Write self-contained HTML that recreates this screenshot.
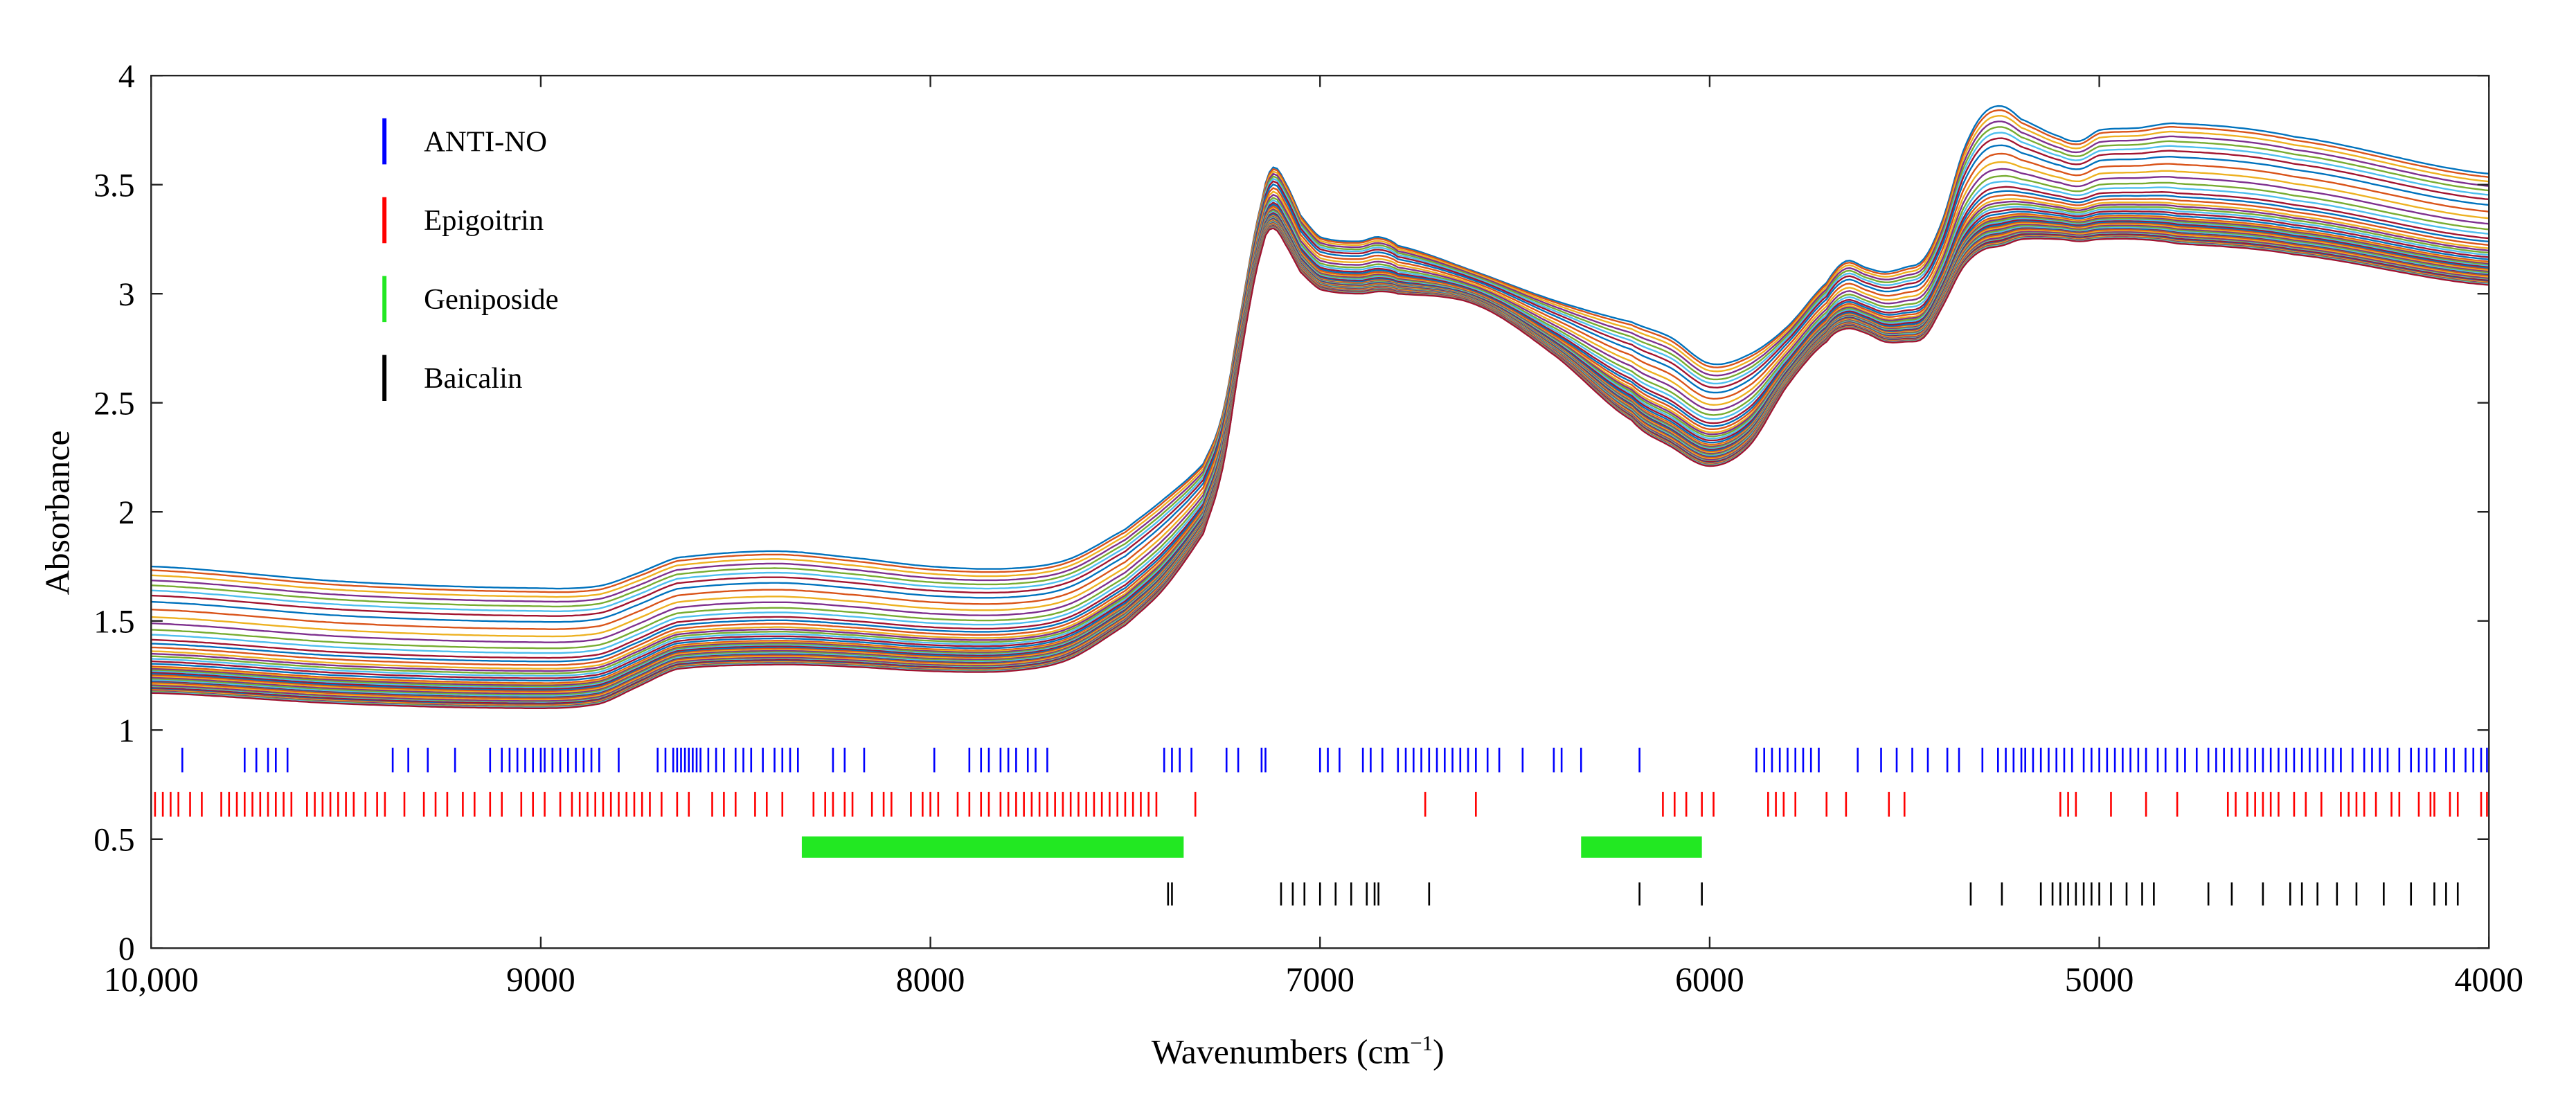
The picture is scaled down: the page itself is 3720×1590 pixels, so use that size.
<!DOCTYPE html>
<html><head><meta charset="utf-8"><style>
html,body{margin:0;padding:0;background:#fff;}
svg{display:block;}
svg text{font-family:'Liberation Serif','Times New Roman',Times,'DejaVu Serif',serif !important;fill:#000;}
</style></head><body>
<svg id="chart" width="3720" height="1590" viewBox="0 0 1568 670" preserveAspectRatio="none" xmlns="http://www.w3.org/2000/svg">
<g id="spectra"></g>
<g id="marks"></g>
<g id="axes"></g>
<g id="legend"></g>
</svg>
<script>
const wn = [10000,9500,9000,8850,8750,8650,8400,8200,8000,7800,7650,7500,7400,7300,7250,7200,7150,7120,7080,7050,7000,6900,6850,6800,6600,6400,6200,6100,6000,5900,5800,5700,5650,5600,5550,5500,5450,5400,5350,5300,5250,5200,5100,5050,5000,4900,4800,4500,4000];
const lowSpec = [1.17,1.12,1.10,1.12,1.20,1.28,1.30,1.29,1.27,1.27,1.32,1.48,1.65,1.90,2.20,2.75,3.20,3.30,3.20,3.10,3.02,3.00,3.01,3.00,2.95,2.72,2.42,2.30,2.21,2.30,2.58,2.78,2.84,2.82,2.78,2.78,2.80,2.95,3.12,3.20,3.22,3.25,3.25,3.24,3.25,3.25,3.23,3.18,3.04];
const highSpec = [1.75,1.68,1.65,1.66,1.72,1.79,1.82,1.79,1.75,1.74,1.78,1.92,2.06,2.22,2.45,2.95,3.42,3.58,3.48,3.36,3.26,3.24,3.26,3.22,3.10,2.97,2.87,2.80,2.68,2.72,2.85,3.05,3.15,3.12,3.10,3.12,3.16,3.35,3.65,3.82,3.86,3.80,3.72,3.70,3.75,3.76,3.78,3.72,3.55];
const sampleLevel = [1,0.97,0.93,0.89,0.85,0.81,0.77,0.72,0.66,0.6,0.55,0.5,0.46,0.42,0.39,0.36,0.33,0.31,0.29,0.27,0.25,0.23,0.21,0.2,0.19,0.18,0.17,0.16,0.15,0.14,0.13,0.12,0.11,0.1,0.09,0.085,0.08,0.07,0.06,0.05,0.045,0.04,0.03,0.025,0.02,0.015,0.01,0.005,0];
const blueVars = [9920,9760,9730,9700,9680,9650,9380,9340,9290,9220,9130,9100,9080,9060,9040,9020,9000,8990,8970,8950,8930,8910,8890,8870,8850,8800,8700,8680,8660,8650,8640,8630,8620,8610,8600,8590,8570,8550,8530,8500,8480,8460,8430,8400,8380,8360,8340,8250,8220,8170,7990,7900,7870,7850,7820,7800,7780,7750,7730,7700,7400,7380,7360,7330,7240,7210,7150,7140,7000,6980,6950,6890,6870,6840,6800,6780,6760,6740,6720,6700,6680,6660,6640,6620,6600,6570,6540,6480,6400,6380,6330,6180,5880,5860,5840,5820,5800,5780,5760,5740,5720,5620,5560,5520,5480,5440,5390,5360,5300,5260,5240,5220,5200,5190,5170,5150,5130,5110,5090,5070,5040,5020,5000,4980,4960,4940,4920,4900,4880,4850,4830,4800,4780,4750,4720,4700,4680,4660,4640,4620,4600,4580,4560,4540,4520,4500,4480,4460,4440,4420,4400,4380,4350,4320,4300,4280,4260,4230,4200,4180,4160,4140,4110,4090,4060,4040,4020,4005];
const redVars = [9990,9970,9950,9930,9900,9870,9820,9800,9780,9760,9740,9720,9700,9680,9660,9640,9600,9580,9560,9540,9520,9500,9480,9450,9420,9400,9350,9300,9270,9240,9200,9170,9130,9100,9050,9020,8990,8950,8920,8900,8880,8860,8840,8820,8800,8780,8760,8740,8720,8690,8650,8620,8560,8530,8500,8450,8420,8380,8300,8270,8250,8220,8200,8150,8120,8100,8050,8020,8000,7980,7930,7900,7870,7850,7820,7800,7780,7760,7740,7720,7700,7680,7660,7640,7620,7600,7580,7560,7540,7520,7500,7480,7460,7440,7420,7320,6730,6600,6120,6090,6060,6020,5990,5850,5830,5810,5780,5700,5650,5540,5500,5100,5080,5060,4970,4880,4800,4670,4650,4620,4600,4580,4560,4540,4500,4470,4430,4380,4360,4340,4320,4290,4250,4230,4180,4150,4140,4100,4080,4020,4005];
const greenBands = [[8330,7350],[6330,6020]];
const blackVars = [7390,7380,7100,7070,7040,7000,6960,6920,6880,6860,6850,6720,6180,6020,5330,5250,5150,5120,5100,5080,5060,5040,5020,5000,4970,4930,4890,4860,4720,4660,4580,4510,4480,4440,4390,4340,4270,4200,4140,4110,4080];
const xTicks = [10000,9000,8000,7000,6000,5000,4000];
const xTickLabels = ["10,000","9000","8000","7000","6000","5000","4000"];
const yTicks = [0,0.5,1,1.5,2,2.5,3,3.5,4];
const yTickLabels = ["0","0.5","1","1.5","2","2.5","3","3.5","4"];
const legendNames = ["ANTI-NO","Epigoitrin","Geniposide","Baicalin"];
const legendColors = ["#0000ff","#ff0000","#22e822","#000000"];

const NS="http://www.w3.org/2000/svg";
const L=92,R=1515,T=46,B=577;
const X=w=>L+(10000-w)/6000*(R-L);
const Y=v=>B-v/4*(B-T);
function mk(tag,attrs,parent){const e=document.createElementNS(NS,tag);for(const k in attrs)e.setAttribute(k,attrs[k]);parent.appendChild(e);return e;}
function interp(arr,w){const n=wn.length;for(let i=0;i<n-1;i++){if(w<=wn[i]&&w>=wn[i+1]){const t=(wn[i]-w)/(wn[i]-wn[i+1]);
  const p0=arr[Math.max(i-1,0)],p1=arr[i],p2=arr[i+1],p3=arr[Math.min(i+2,n-1)];
  const t2=t*t,t3=t2*t;
  return 0.5*((2*p1)+(-p0+p2)*t+(2*p0-5*p1+4*p2-p3)*t2+(-p0+3*p1-3*p2+p3)*t3);}}return arr[n-1];}
const pal=["#0072bd","#d95319","#edb120","#7e2f8e","#77ac30","#4dbeee","#a2142f"];
const gS=document.getElementById('spectra');
sampleLevel.forEach((f,k)=>{
  let d="";
  for(let w=10000;w>=4000;w-=10){const v=interp(lowSpec,w)+f*(interp(highSpec,w)-interp(lowSpec,w));d+=(w===10000?"M":"L")+X(w).toFixed(1)+","+Y(v).toFixed(1);}
  const p=mk('path',{d:d,fill:"none",stroke:pal[k%7],"stroke-width":"1"},gS);
  
  
});
const gM=document.getElementById('marks');
function ticks(arr,color,y1,y2,name){arr.forEach(w=>{const l=mk('line',{x1:X(w),x2:X(w),y1:y1,y2:y2,stroke:color,"stroke-width":"1.1"},gM);
  
  });}
ticks(blueVars,"#0000ff",455,470,'anti-no-variable');
ticks(redVars,"#ff0000",482,497,'epigoitrin-variable');
ticks(blackVars,"#000000",537,551,'baicalin-variable');
greenBands.forEach(b=>{const r=mk('rect',{x:X(b[0]),y:509,width:X(b[1])-X(b[0]),height:13,fill:"#22e822"},gM);
  
  });
const gA=document.getElementById('axes');
const fr=mk('rect',{x:L,y:T,width:R-L,height:B-T,fill:"none",stroke:"#222","stroke-width":"1"},gA);


xTicks.forEach((w,i)=>{mk('line',{x1:X(w),x2:X(w),y1:B,y2:B-7,stroke:"#222"},gA);mk('line',{x1:X(w),x2:X(w),y1:T,y2:T+7,stroke:"#222"},gA);
  const t=mk('text',{x:X(w),y:603,"text-anchor":"middle","font-size":"21"},gA);t.textContent=xTickLabels[i];
  
  });
yTicks.forEach((v,i)=>{mk('line',{x1:L,x2:L+7,y1:Y(v),y2:Y(v),stroke:"#222"},gA);mk('line',{x1:R,x2:R-7,y1:Y(v),y2:Y(v),stroke:"#222"},gA);
  const t=mk('text',{x:82,y:Y(v)+7,"text-anchor":"end","font-size":"20"},gA);t.textContent=yTickLabels[i];
  
  });
const yt=mk('text',{x:0,y:0,transform:"translate(42,312) rotate(-90)","text-anchor":"middle","font-size":"21"},gA);yt.textContent="Absorbance";


const xt=mk('text',{x:790,y:647,"text-anchor":"middle","font-size":"21"},gA);


xt.innerHTML='Wavenumbers (cm<tspan dy="-8" font-size="13">−1</tspan><tspan dy="8">)</tspan>';
const gL=document.getElementById('legend');
legendNames.forEach((n,i)=>{const cy=86+i*48;
  const l=mk('line',{x1:234,x2:234,y1:cy-14,y2:cy+14,stroke:legendColors[i],"stroke-width":"2.5"},gL);
  
  
  const t=mk('text',{x:258,y:cy+6,"font-size":"18"},gL);t.textContent=n;
  
  });
</script>
</body></html>
